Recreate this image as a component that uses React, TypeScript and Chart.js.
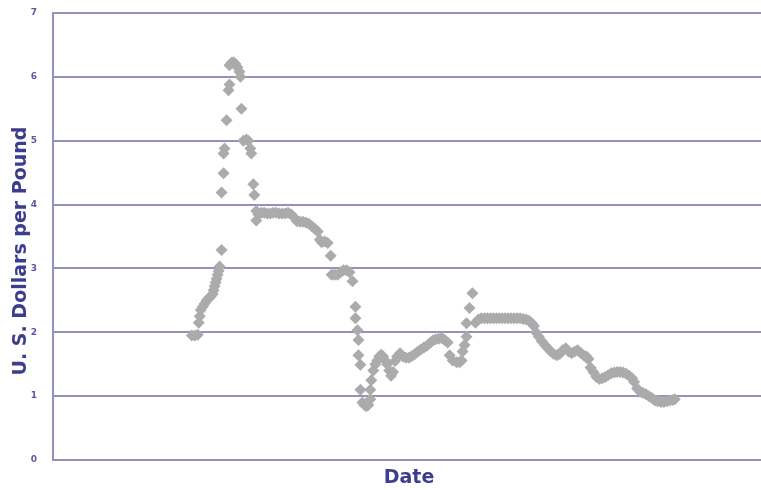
import React, { useEffect, useRef } from "react";
import { Chart, registerables } from "chart.js";

Chart.register(...registerables);

// Month index (date) of each observation and the price in U.S. dollars per pound
const months: number[] = [
  137, 140, 143, 144, 145, 146, 148, 150, 152, 154, 156, 158, 159, 160, 161, 162, 163, 164, 165, 167,
  167, 169, 169, 170, 172, 174, 175, 175, 177, 179, 181, 183, 185, 186, 187, 189, 192, 194, 196, 197,
  199, 200, 202, 202, 204, 207, 210, 213, 216, 219, 222, 225, 228, 231, 234, 237, 240, 243, 246, 249,
  252, 255, 258, 261, 264, 266, 268, 271, 274, 277, 278, 281, 284, 287, 290, 293, 296, 299, 302, 302,
  304, 305, 305, 307, 307, 309, 311, 313, 315, 317, 317, 318, 320, 322, 324, 326, 328, 330, 332, 334,
  336, 338, 340, 342, 344, 347, 350, 353, 356, 359, 362, 365, 368, 371, 374, 377, 380, 383, 386, 389,
  392, 395, 397, 400, 404, 407, 409, 410, 412, 414, 414, 417, 420, 423, 426, 429, 432, 435, 438, 441,
  444, 447, 450, 453, 456, 459, 462, 465, 468, 471, 474, 477, 480, 482, 484, 487, 490, 493, 496, 499,
  502, 505, 508, 511, 514, 517, 520, 523, 526, 529, 532, 535, 535, 537, 539, 542, 545, 548, 551, 554,
  557, 560, 563, 566, 569, 572, 575, 578, 581, 583, 586, 589, 592, 595, 598, 601, 604, 607, 610, 613,
  616, 619, 622, 624,
];

const prices: number[] = [
  1.95, 1.95, 1.96, 2.15, 2.25, 2.35, 2.4, 2.45, 2.5, 2.53, 2.56, 2.6, 2.66, 2.72, 2.78, 2.84, 2.9, 2.96, 3.03, 3.29,
  4.19, 4.49, 4.8, 4.88, 5.32, 5.79, 5.88, 6.18, 6.22, 6.23, 6.2, 6.15, 6.08, 6.0, 5.5, 5.0, 5.02, 5.0, 4.88, 4.8,
  4.32, 4.15, 3.9, 3.75, 3.85, 3.87, 3.87, 3.86, 3.86, 3.87, 3.87, 3.86, 3.86, 3.86, 3.87, 3.85, 3.8, 3.74, 3.73, 3.73,
  3.72, 3.7, 3.66, 3.62, 3.58, 3.45, 3.41, 3.42, 3.4, 3.2, 2.9, 2.9, 2.9, 2.94, 2.97, 2.97, 2.94, 2.8, 2.4, 2.22,
  2.03, 1.88, 1.64, 1.49, 1.1, 0.9, 0.86, 0.84, 0.86, 0.95, 1.1, 1.25, 1.4, 1.5, 1.56, 1.62, 1.65, 1.62, 1.56, 1.5,
  1.4, 1.32, 1.38, 1.55, 1.62, 1.67, 1.62, 1.6, 1.6, 1.63, 1.66, 1.7, 1.73, 1.76, 1.79, 1.83, 1.87, 1.89, 1.9, 1.91,
  1.88, 1.84, 1.64, 1.56, 1.53, 1.53, 1.56, 1.7, 1.8, 1.93, 2.14, 2.38, 2.61, 2.15, 2.2, 2.22, 2.22, 2.22, 2.22, 2.22,
  2.22, 2.22, 2.22, 2.22, 2.22, 2.22, 2.22, 2.22, 2.22, 2.21, 2.2, 2.18, 2.14, 2.1, 2.0, 1.93, 1.86, 1.8, 1.75, 1.7,
  1.66, 1.64, 1.66, 1.72, 1.75, 1.7, 1.67, 1.7, 1.72, 1.68, 1.64, 1.62, 1.6, 1.58, 1.45, 1.38, 1.3, 1.27, 1.28, 1.3,
  1.33, 1.36, 1.37, 1.38, 1.38, 1.37, 1.35, 1.32, 1.28, 1.22, 1.12, 1.07, 1.05, 1.03, 1.0, 0.97, 0.93, 0.92, 0.91, 0.91,
  0.92, 0.93, 0.94, 0.95,
];

const yTicks: number[] = [0, 1, 2, 3, 4, 5, 6, 7];
const yTitle = "U. S. Dollars per Pound";
const xTitle = "Date";

const FONT = "'DejaVu Sans', Verdana, sans-serif";
const TITLE_COLOR = "#3d3d8f";
const GRID_COLOR = "#9292bf";

export default function App() {
  const canvasRef = useRef<HTMLCanvasElement | null>(null);

  useEffect(() => {
    const canvas = canvasRef.current;
    if (!canvas) return;

    const points = months.map((m, i) => ({ x: m, y: prices[i] }));

    const yTitlePlugin = {
      id: "yTitlePlugin",
      afterDraw(chart: any) {
        const { ctx } = chart;
        ctx.save();
        ctx.translate(21, 251);
        ctx.rotate(-Math.PI / 2);
        ctx.font = `bold 19px ${FONT}`;
        ctx.fillStyle = TITLE_COLOR;
        ctx.textAlign = "center";
        ctx.textBaseline = "middle";
        ctx.fillText(yTitle, 0, 0);
        ctx.restore();
      },
    };

    const chart = new Chart(canvas, {
      type: "scatter",
      data: {
        datasets: [
          {
            data: points,
            showLine: false,
            pointStyle: "rectRot",
            pointRadius: 6,
            pointHoverRadius: 6,
            backgroundColor: "#ababab",
            borderColor: "#ababab",
            borderWidth: 0,
          },
        ],
      },
      options: {
        animation: false,
        responsive: false,
        events: [],
        layout: { padding: { top: 13, left: 0, right: 0, bottom: 0 } },
        plugins: {
          legend: { display: false },
          tooltip: { enabled: false },
          title: { display: false },
        },
        scales: {
          x: {
            type: "linear",
            min: -3,
            max: 715,
            grid: { display: false, drawTicks: false },
            border: { display: true, color: GRID_COLOR, width: 2 },
            ticks: { display: false },
            title: {
              display: true,
              text: xTitle,
              color: TITLE_COLOR,
              font: { family: FONT, size: 19, weight: "bold" },
              padding: { top: 0, bottom: 1 },
            },
            afterFit(scale: any) {
              scale.height = 30;
            },
          },
          y: {
            type: "linear",
            min: 0,
            max: 7,
            afterBuildTicks(scale: any) {
              scale.ticks = yTicks.map((v) => ({ value: v }));
            },
            grid: {
              color: GRID_COLOR,
              lineWidth: 2,
              drawTicks: true,
              tickLength: 16,
              tickColor: "rgba(0,0,0,0)",
            },
            border: { display: true, color: GRID_COLOR, width: 2 },
            ticks: {
              padding: 0,
              color: "#5858a8",
              font: { family: FONT, size: 9, weight: "bold" },
            },
            afterFit(scale: any) {
              scale.width = 53;
            },
          },
        },
      },
      plugins: [yTitlePlugin],
    });

    return () => {
      chart.destroy();
    };
  }, []);

  return (
    <div
      style={{
        position: "fixed",
        left: 0,
        top: 0,
        width: 761,
        height: 490,
        overflow: "hidden",
        background: "#ffffff",
      }}
    >
      <canvas ref={canvasRef} width={771} height={490} style={{ width: 771, height: 490, display: "block" }} />
    </div>
  );
}
